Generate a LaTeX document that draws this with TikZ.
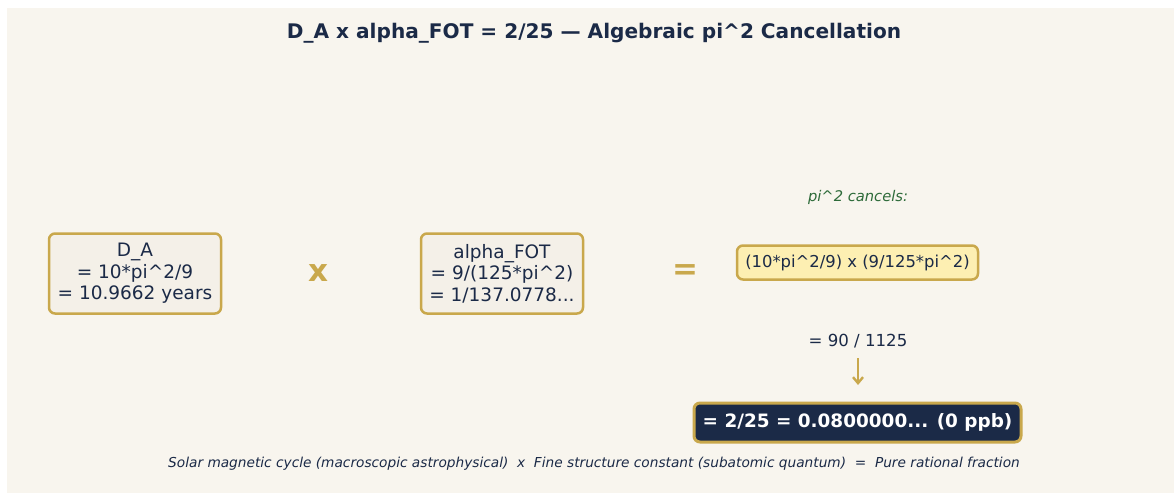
\documentclass[tikz,border=0pt]{standalone}
\usepackage{fontspec}
\setmainfont{DejaVu Sans}
\usetikzlibrary{arrows.meta}
\definecolor{bg}{HTML}{F8F5EE}
\definecolor{boxbg}{HTML}{F4F0E8}
\definecolor{gold}{HTML}{C9A84C}
\definecolor{navy}{HTML}{1B2A47}
\definecolor{pale}{HTML}{FDEFB2}
\definecolor{grn}{HTML}{2E6B3A}
\tikzset{
  every node/.style={text=navy, inner sep=0pt},
  valbox/.style={draw=gold, line width=2.5pt, rounded corners=6pt, fill=boxbg, align=center,
    font=\fontsize{18.5}{21.5}\selectfont},
  opsym/.style={text=gold, font=\fontsize{31}{31}\selectfont\bfseries},
}
\begin{document}
\begin{tikzpicture}[x=1pt,y=-1pt]
\useasboundingbox (0,0) rectangle (1174,495);
\fill[white] (0,0) rectangle (1174,495);
\fill[bg] (7,8) rectangle (1174,493);
\node[font=\fontsize{20.1}{23}\selectfont\bfseries] (title) at (594,33) {D\_A x alpha\_FOT = 2/25 — Algebraic pi\textasciicircum 2 Cancellation};
\node[valbox, minimum width=172pt, minimum height=80pt] (da) at (135,273.5) {D\_A\\= 10*pi\textasciicircum 2/9\\= 10.9662 years};
\node[opsym] (times) at (318,273) {x};
\node[valbox, minimum width=162pt, minimum height=80pt] (alpha) at (502,273.5) {alpha\_FOT\\= 9/(125*pi\textasciicircum 2)\\= 1/137.0778...};
\node[opsym] (eq) at (685,272) {=};
\node[text=grn, font=\fontsize{14.7}{16}\selectfont\itshape] (cancel) at (858,197) {pi\textasciicircum 2 cancels:};
\node[draw=gold, line width=2.5pt, rounded corners=6pt, fill=pale, minimum width=241pt, minimum height=34pt,
  font=\fontsize{16.4}{18}\selectfont] (prod) at (857.5,262.5) {(10*pi\textasciicircum 2/9) x (9/125*pi\textasciicircum 2)};
\node[font=\fontsize{16.6}{18}\selectfont] (frac) at (858,341) {= 90 / 1125};
\coordinate (a1) at (858,358);
\coordinate (a2) at (858,385);
\draw[gold, line width=2.4pt, -{Straight Barb[length=6pt,width=10pt]}] (a1) -- (a2);
\node[draw=gold, line width=3pt, rounded corners=6pt, fill=navy, text=white, minimum width=327pt, minimum height=39pt,
  font=\fontsize{18.4}{20}\selectfont\bfseries] (res) at (857.5,422.5) {= 2/25 = 0.0800000... (0 ppb)};
\node[font=\fontsize{13.7}{15}\selectfont\itshape] (foot) at (594,464) {Solar magnetic cycle (macroscopic astrophysical) \ x \ Fine structure constant (subatomic quantum) \ = \ Pure rational fraction};
\end{tikzpicture}
\end{document}
